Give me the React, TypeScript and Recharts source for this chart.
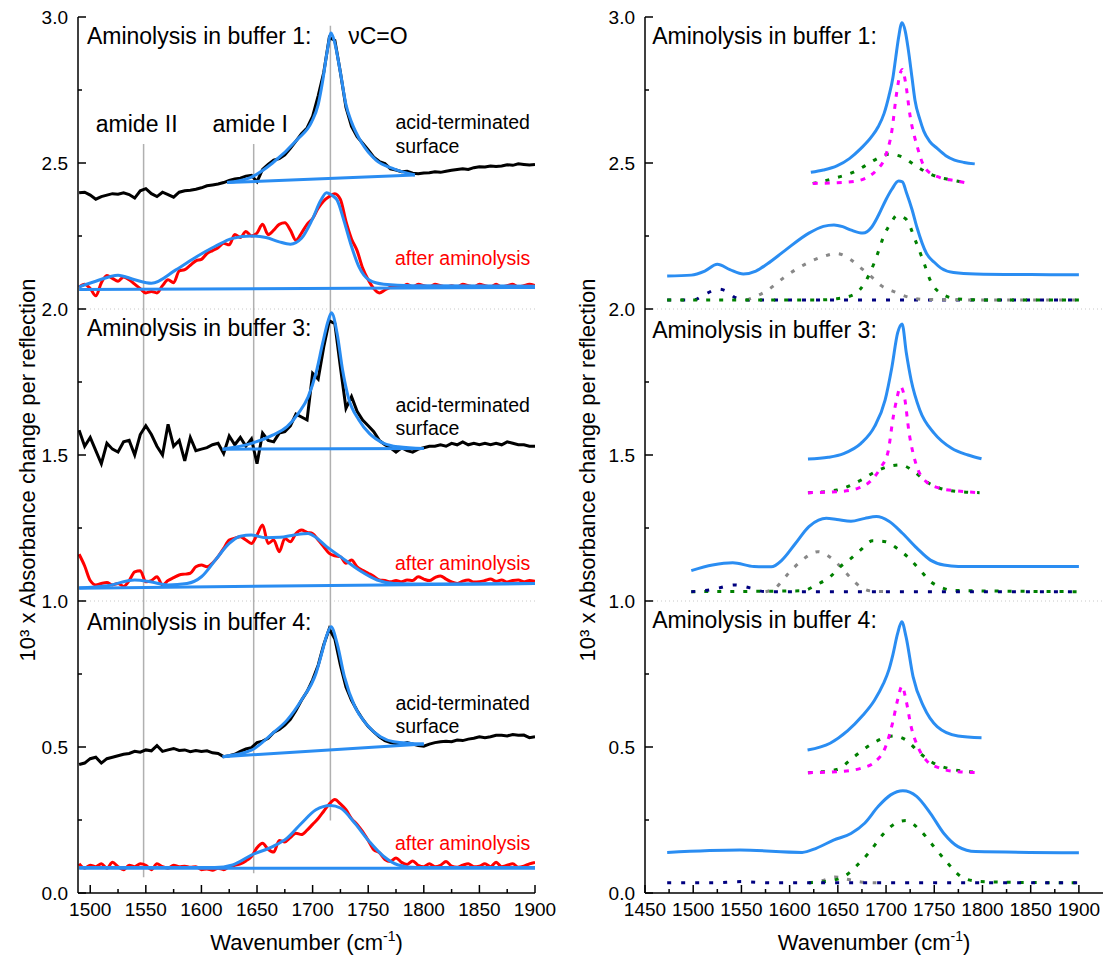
import { LineChart, Line, XAxis, YAxis, ReferenceLine, ReferenceDot } from 'recharts'

const FONT = '"Liberation Sans", Arial, Helvetica, sans-serif'
const BLUE = '#2a8df2'
const TICK_GAP = 10

type Pt = [number, number]

// shared wavenumber grid of the measured spectra (cm-1)
const wavenumbers = [
  1490, 1495, 1500, 1505, 1510, 1515, 1520, 1525, 1530, 1535,
  1540, 1545, 1550, 1555, 1560, 1565, 1570, 1575, 1580, 1585,
  1590, 1595, 1600, 1605, 1610, 1615, 1620, 1625, 1630, 1635,
  1640, 1645, 1650, 1655, 1660, 1665, 1670, 1675, 1680, 1685,
  1690, 1695, 1700, 1705, 1710, 1715, 1720, 1725, 1730, 1735,
  1740, 1745, 1750, 1755, 1760, 1765, 1770, 1775, 1780, 1785,
  1790, 1795, 1800, 1805, 1810, 1815, 1820, 1825, 1830, 1835,
  1840, 1845, 1850, 1855, 1860, 1865, 1870, 1875, 1880, 1885,
  1890, 1895, 1900,
]

// measured spectra (offset), left panel
const acidBuffer1 = [
  2.398, 2.4, 2.39, 2.376, 2.385, 2.39, 2.395, 2.393, 2.398, 2.392,
  2.38, 2.405, 2.412, 2.395, 2.385, 2.4, 2.392, 2.383, 2.4, 2.405,
  2.407, 2.41, 2.415, 2.422, 2.425, 2.428, 2.433, 2.44, 2.445, 2.448,
  2.455, 2.458, 2.436, 2.478, 2.495, 2.51, 2.515, 2.528, 2.55, 2.575,
  2.6, 2.62, 2.66, 2.73, 2.81, 2.93, 2.92, 2.81, 2.69, 2.625,
  2.59, 2.568, 2.545, 2.52, 2.505, 2.498, 2.48, 2.476, 2.47, 2.472,
  2.465, 2.463, 2.466, 2.467, 2.47, 2.468, 2.472, 2.475, 2.478, 2.48,
  2.478, 2.484, 2.487, 2.486, 2.49, 2.488, 2.49, 2.494, 2.492, 2.497,
  2.495, 2.493, 2.495,
]
const afterBuffer1 = [
  2.075, 2.085, 2.07, 2.045, 2.09, 2.115, 2.105, 2.095, 2.11, 2.1,
  2.085, 2.07, 2.055, 2.06, 2.055, 2.08, 2.1, 2.09, 2.13, 2.135,
  2.15, 2.165, 2.17, 2.19, 2.2, 2.21, 2.225, 2.22, 2.255, 2.245,
  2.265, 2.25, 2.26, 2.29, 2.255, 2.27, 2.29, 2.295, 2.27, 2.235,
  2.26, 2.29, 2.31, 2.345, 2.37, 2.385, 2.395, 2.375, 2.3, 2.24,
  2.2, 2.14, 2.1, 2.07, 2.055, 2.065, 2.075, 2.08, 2.075, 2.085,
  2.075, 2.085, 2.08, 2.075, 2.085, 2.08, 2.075, 2.08, 2.075, 2.085,
  2.08, 2.075, 2.085, 2.08, 2.075, 2.085, 2.075, 2.08, 2.085, 2.075,
  2.08, 2.085, 2.08,
]
const acidBuffer3 = [
  1.585, 1.53, 1.56, 1.515, 1.47, 1.54, 1.52, 1.51, 1.545, 1.55,
  1.5, 1.57, 1.6, 1.57, 1.53, 1.5, 1.605, 1.53, 1.55, 1.48,
  1.56, 1.515, 1.52, 1.525, 1.535, 1.54, 1.505, 1.565, 1.535, 1.56,
  1.53, 1.555, 1.47, 1.575, 1.55, 1.545, 1.575, 1.58, 1.6, 1.64,
  1.63, 1.62, 1.78, 1.76, 1.87, 1.96, 1.95, 1.8, 1.66, 1.7,
  1.65, 1.62, 1.6, 1.58, 1.55, 1.535, 1.525, 1.51, 1.525, 1.515,
  1.51, 1.52, 1.525, 1.53, 1.53, 1.535, 1.53, 1.54, 1.535, 1.545,
  1.535, 1.54, 1.535, 1.54, 1.535, 1.54, 1.535, 1.545, 1.54, 1.535,
  1.535, 1.53, 1.53,
]
const afterBuffer3 = [
  1.16, 1.12, 1.07, 1.055, 1.06, 1.063, 1.055, 1.06, 1.05, 1.07,
  1.1, 1.104, 1.066, 1.07, 1.083, 1.055, 1.07, 1.08, 1.089, 1.092,
  1.095, 1.117, 1.123, 1.117, 1.13, 1.152, 1.18, 1.209, 1.215, 1.22,
  1.209, 1.197, 1.226, 1.26, 1.197, 1.209, 1.169, 1.214, 1.203, 1.231,
  1.243, 1.235, 1.231, 1.209, 1.186, 1.163, 1.155, 1.152, 1.129, 1.14,
  1.117, 1.105, 1.095, 1.085, 1.072, 1.07, 1.066, 1.07, 1.066, 1.072,
  1.07, 1.083, 1.075, 1.07, 1.08, 1.086, 1.075, 1.065, 1.06, 1.068,
  1.072, 1.065, 1.066, 1.07, 1.075, 1.068, 1.072, 1.065, 1.07, 1.072,
  1.066, 1.07, 1.068,
]
const acidBuffer4 = [
  0.44, 0.445, 0.46, 0.465, 0.445, 0.46, 0.465, 0.47, 0.475, 0.478,
  0.485, 0.482, 0.49, 0.487, 0.505, 0.485, 0.49, 0.495, 0.488, 0.49,
  0.484, 0.488, 0.485, 0.487, 0.48, 0.478, 0.467, 0.47, 0.475, 0.485,
  0.493, 0.498, 0.515, 0.52, 0.53, 0.55, 0.56, 0.575, 0.595, 0.625,
  0.66, 0.69, 0.73, 0.78, 0.85, 0.905, 0.87, 0.78, 0.705, 0.66,
  0.625, 0.595, 0.57, 0.552, 0.535, 0.522, 0.515, 0.512, 0.51, 0.515,
  0.51, 0.505, 0.503, 0.51, 0.515, 0.518, 0.52, 0.518, 0.524, 0.522,
  0.527, 0.53, 0.535, 0.532, 0.535, 0.54, 0.54, 0.538, 0.543, 0.54,
  0.541, 0.532, 0.535,
]
const afterBuffer4 = [
  0.1, 0.085, 0.095, 0.09, 0.1, 0.085, 0.105, 0.09, 0.08, 0.095,
  0.09, 0.1, 0.095, 0.08, 0.1, 0.09, 0.085, 0.095, 0.09, 0.092,
  0.088, 0.09, 0.08, 0.082, 0.078, 0.085, 0.08, 0.09, 0.095, 0.1,
  0.11, 0.125, 0.155, 0.17, 0.15, 0.14, 0.18, 0.175, 0.19, 0.205,
  0.2, 0.215, 0.235, 0.255, 0.28, 0.305, 0.32, 0.305, 0.285, 0.255,
  0.235, 0.21, 0.18, 0.148, 0.138, 0.115, 0.108, 0.12, 0.105, 0.098,
  0.11, 0.095, 0.09, 0.1, 0.09, 0.095, 0.108, 0.092, 0.088, 0.095,
  0.1, 0.09, 0.092, 0.1, 0.09, 0.105, 0.09, 0.095, 0.1, 0.088,
  0.092, 0.1, 0.105,
]

// fits and baselines, left panel
const fitAcid1: Pt[] = [[1623, 2.433], [1644, 2.45], [1664, 2.5], [1686, 2.58], [1699, 2.64], [1705, 2.7], [1709, 2.78], [1713, 2.88], [1716.6, 2.945], [1720, 2.91], [1725, 2.81], [1730, 2.7], [1735, 2.64], [1744, 2.57], [1757, 2.51], [1773, 2.48], [1792, 2.459]]
const baseAcid1: Pt[] = [[1623, 2.433], [1792, 2.459]]
const fitAfter1: Pt[] = [[1490, 2.076], [1505, 2.095], [1525, 2.116], [1540, 2.1], [1555, 2.088], [1577, 2.134], [1596, 2.18], [1612, 2.214], [1628, 2.242], [1645, 2.25], [1658, 2.245], [1670, 2.23], [1680, 2.222], [1690, 2.242], [1699.5, 2.305], [1707.5, 2.373], [1712.5, 2.398], [1717, 2.39], [1722, 2.373], [1728, 2.305], [1735, 2.214], [1741.6, 2.145], [1751, 2.099], [1764, 2.085], [1790, 2.08], [1900, 2.078]]
const baseAfter1: Pt[] = [[1490, 2.067], [1900, 2.074]]
const fitAcid3: Pt[] = [[1619, 1.52], [1645, 1.54], [1664, 1.568], [1677, 1.597], [1687, 1.642], [1696, 1.699], [1703, 1.78], [1709, 1.882], [1714, 1.96], [1717, 1.987], [1722, 1.917], [1727, 1.79], [1732, 1.699], [1741.6, 1.62], [1751, 1.574], [1764, 1.54], [1777, 1.528], [1800, 1.522]]
const baseAcid3: Pt[] = [[1619, 1.52], [1800, 1.522]]
const fitAfter3: Pt[] = [[1490, 1.045], [1515, 1.052], [1540, 1.072], [1554, 1.066], [1570, 1.055], [1587, 1.06], [1600, 1.083], [1612.5, 1.14], [1625, 1.197], [1635, 1.222], [1645, 1.226], [1657.6, 1.217], [1670.6, 1.218], [1683.4, 1.226], [1696, 1.231], [1702.8, 1.218], [1712.5, 1.186], [1725, 1.152], [1741.6, 1.106], [1758, 1.072], [1773, 1.06], [1806, 1.058], [1900, 1.06]]
const baseAfter3: Pt[] = [[1490, 1.044], [1900, 1.06]]
const fitAcid4: Pt[] = [[1619, 0.467], [1645, 0.489], [1664, 0.547], [1677, 0.592], [1690, 0.661], [1703, 0.752], [1709, 0.832], [1713, 0.885], [1716.6, 0.912], [1722, 0.855], [1728.6, 0.741], [1738, 0.638], [1748, 0.58], [1761, 0.535], [1773, 0.518], [1800, 0.51]]
const baseAcid4: Pt[] = [[1619, 0.467], [1800, 0.51]]
const fitAfter4: Pt[] = [[1490, 0.087], [1600, 0.087], [1612, 0.087], [1628, 0.096], [1645, 0.13], [1664, 0.159], [1677, 0.188], [1690, 0.239], [1703, 0.285], [1716, 0.3], [1725, 0.291], [1738, 0.239], [1751, 0.176], [1764, 0.125], [1777, 0.096], [1793, 0.087], [1900, 0.087]]
const baseAfter4: Pt[] = [[1490, 0.085], [1900, 0.085]]

// band markers: amide II, amide I, nu C=O
const markerAmide2: Pt[] = [[1548, 0.054], [1548, 2.565]]
const markerAmide1: Pt[] = [[1647, 0.068], [1647, 2.565]]
const markerCO: Pt[] = [[1716, 0.248], [1716, 2.97]]

// right panel: fitted sums and components
const sumAcid1: Pt[] = [[1622, 2.468], [1635, 2.476], [1649, 2.49], [1662, 2.515], [1674, 2.55], [1685, 2.59], [1692, 2.625], [1698, 2.67], [1703, 2.73], [1707, 2.79], [1710, 2.86], [1713, 2.93], [1716.5, 2.98], [1720, 2.95], [1723, 2.89], [1727, 2.79], [1730, 2.715], [1735, 2.65], [1739, 2.61], [1745, 2.575], [1753, 2.55], [1762, 2.525], [1771, 2.51], [1781, 2.502], [1792, 2.497]]
const lorAcid1: Pt[] = [[1624, 2.43], [1645, 2.432], [1667, 2.437], [1680, 2.45], [1690, 2.475], [1699, 2.52], [1706, 2.61], [1711, 2.74], [1715, 2.81], [1717, 2.82], [1720, 2.78], [1725, 2.66], [1732, 2.56], [1741, 2.48], [1756, 2.45], [1771, 2.44], [1786, 2.43]]
const gauAcid1: Pt[] = [[1624, 2.43], [1649, 2.45], [1667, 2.47], [1678, 2.49], [1688, 2.51], [1703, 2.53], [1717, 2.52], [1731, 2.49], [1741, 2.47], [1756, 2.45], [1771, 2.44], [1786, 2.43]]
const sumAfter1: Pt[] = [[1473, 2.113], [1498, 2.116], [1512, 2.13], [1525, 2.153], [1538, 2.135], [1552, 2.12], [1565, 2.13], [1577, 2.155], [1595, 2.2], [1620, 2.26], [1635, 2.283], [1646, 2.288], [1655, 2.282], [1664, 2.27], [1676, 2.26], [1685, 2.28], [1692, 2.32], [1700, 2.375], [1706, 2.41], [1713, 2.438], [1717, 2.435], [1721, 2.4], [1727, 2.34], [1732, 2.28], [1742, 2.19], [1750, 2.16], [1757, 2.14], [1770, 2.125], [1793, 2.12], [1850, 2.118], [1900, 2.117]]
const amide2After1: Pt[] = [[1473, 2.031], [1500, 2.031], [1512, 2.05], [1526, 2.068], [1535, 2.06], [1543, 2.04], [1555, 2.031], [1700, 2.031], [1900, 2.031]]
const amide1After1: Pt[] = [[1556, 2.031], [1577, 2.064], [1595, 2.11], [1620, 2.16], [1635, 2.18], [1649, 2.19], [1663, 2.17], [1674, 2.14], [1685, 2.11], [1695, 2.08], [1710, 2.057], [1724, 2.04], [1739, 2.033], [1800, 2.031], [1900, 2.031]]
const esterAfter1: Pt[] = [[1473, 2.031], [1630, 2.031], [1649, 2.035], [1667, 2.05], [1678, 2.09], [1688, 2.16], [1699, 2.26], [1706, 2.3], [1711, 2.32], [1720, 2.31], [1731, 2.23], [1738, 2.17], [1747, 2.09], [1759, 2.05], [1773, 2.035], [1800, 2.031], [1900, 2.031]]

const sumAcid3: Pt[] = [[1619, 1.486], [1640, 1.492], [1656, 1.505], [1674, 1.54], [1688, 1.597], [1699, 1.688], [1706, 1.8], [1712, 1.918], [1716.6, 1.949], [1721, 1.85], [1726, 1.757], [1735, 1.654], [1750, 1.574], [1768, 1.523], [1785, 1.5], [1799, 1.487]]
const lorAcid3: Pt[] = [[1619, 1.371], [1649, 1.374], [1670, 1.385], [1685, 1.414], [1695, 1.46], [1702, 1.51], [1707.5, 1.631], [1711, 1.69], [1715, 1.734], [1719, 1.7], [1724, 1.574], [1731, 1.47], [1741.5, 1.409], [1756, 1.386], [1773.5, 1.377], [1797, 1.371]]
const gauAcid3: Pt[] = [[1619, 1.371], [1649, 1.38], [1674, 1.414], [1688.5, 1.442], [1702, 1.46], [1715, 1.466], [1728, 1.446], [1741.5, 1.409], [1756, 1.386], [1775, 1.375], [1797, 1.371]]
const sumAfter3: Pt[] = [[1498, 1.104], [1520, 1.123], [1541, 1.131], [1563, 1.118], [1581, 1.117], [1592, 1.14], [1606, 1.197], [1620, 1.255], [1630, 1.277], [1638, 1.283], [1649, 1.279], [1663.6, 1.273], [1678, 1.283], [1690, 1.289], [1703, 1.273], [1717, 1.232], [1732, 1.181], [1746, 1.14], [1760, 1.123], [1775, 1.118], [1900, 1.118]]
const amide2After3: Pt[] = [[1498, 1.032], [1520, 1.04], [1527, 1.045], [1543, 1.055], [1559, 1.045], [1575, 1.032], [1900, 1.032]]
const amide1After3: Pt[] = [[1575, 1.032], [1584.5, 1.043], [1599, 1.095], [1613, 1.14], [1629.4, 1.169], [1642, 1.15], [1652.7, 1.118], [1663.6, 1.078], [1674, 1.047], [1685, 1.034], [1700, 1.032]]
const esterAfter3: Pt[] = [[1498, 1.032], [1613, 1.035], [1627.6, 1.055], [1642, 1.083], [1652.7, 1.118], [1663.6, 1.146], [1674, 1.176], [1686, 1.206], [1699.5, 1.203], [1711.6, 1.18], [1724, 1.146], [1735, 1.107], [1746, 1.067], [1756.7, 1.047], [1770.8, 1.036], [1900, 1.032]]

const sumAcid4: Pt[] = [[1618.6, 0.49], [1642, 0.513], [1660, 0.555], [1675, 0.605], [1688, 0.66], [1697, 0.715], [1703, 0.765], [1707, 0.815], [1712, 0.889], [1716.3, 0.929], [1720.7, 0.878], [1728, 0.741], [1739, 0.638], [1753, 0.57], [1774.6, 0.538], [1799, 0.532]]
const lorAcid4: Pt[] = [[1619, 0.412], [1649, 0.415], [1674, 0.427], [1688.5, 0.449], [1699.5, 0.501], [1706.6, 0.58], [1712, 0.661], [1716.6, 0.709], [1720.7, 0.661], [1726, 0.57], [1733, 0.501], [1741.5, 0.455], [1756, 0.427], [1774.6, 0.415], [1799, 0.412]]
const gauAcid4: Pt[] = [[1619, 0.412], [1649, 0.423], [1667, 0.467], [1685, 0.51], [1699.5, 0.533], [1708, 0.538], [1720.7, 0.524], [1735, 0.479], [1749.6, 0.444], [1764, 0.427], [1799, 0.412]]
const sumAfter4: Pt[] = [[1473, 0.139], [1548.5, 0.147], [1613, 0.139], [1627.5, 0.153], [1645.5, 0.181], [1663.6, 0.204], [1677.8, 0.239], [1692, 0.297], [1704.8, 0.336], [1717.4, 0.35], [1731.7, 0.331], [1746, 0.273], [1760, 0.204], [1774.6, 0.159], [1792.8, 0.142], [1900, 0.138]]
const amide2After4: Pt[] = [[1473, 0.035], [1520, 0.035], [1550, 0.039], [1580, 0.035], [1900, 0.035]]
const amide1After4: Pt[] = [[1620, 0.035], [1634.6, 0.043], [1647, 0.055], [1659.5, 0.047], [1674, 0.038], [1690, 0.035]]
const esterAfter4: Pt[] = [[1620, 0.035], [1645.5, 0.044], [1660, 0.064], [1670, 0.095], [1681.5, 0.135], [1697.7, 0.204], [1710, 0.239], [1720.7, 0.248], [1735, 0.216], [1749.6, 0.159], [1764, 0.102], [1778, 0.056], [1793, 0.041], [1820, 0.037], [1900, 0.035]]

// axes
const leftXTicks = [1500, 1525, 1550, 1575, 1600, 1625, 1650, 1675, 1700, 1725, 1750, 1775, 1800, 1825, 1850, 1875, 1900]
const rightXTicks = [1450, 1475, 1500, 1525, 1550, 1575, 1600, 1625, 1650, 1675, 1700, 1725, 1750, 1775, 1800, 1825, 1850, 1875, 1900]
const yTicks = [0, 0.25, 0.5, 0.75, 1, 1.25, 1.5, 1.75, 2, 2.25, 2.5, 2.75, 3]

const yTitle = '10\u00b3 x Absorbance change per reflection'

const leftNotes = [
  { x: 1497, y: 2.906, text: 'Aminolysis in buffer 1:', big: true, red: false },
  { x: 1732, y: 2.906, text: '\u03bdC=O', big: true, red: false },
  { x: 1505, y: 2.606, text: 'amide II', big: true, red: false },
  { x: 1610, y: 2.606, text: 'amide I', big: true, red: false },
  { x: 1774.5, y: 2.616, text: 'acid-terminated', big: false, red: false },
  { x: 1774.5, y: 2.535, text: 'surface', big: false, red: false },
  { x: 1774, y: 2.151, text: 'after aminolysis', big: false, red: true },
  { x: 1497, y: 1.908, text: 'Aminolysis in buffer 3:', big: true, red: false },
  { x: 1774.5, y: 1.648, text: 'acid-terminated', big: false, red: false },
  { x: 1774.5, y: 1.568, text: 'surface', big: false, red: false },
  { x: 1774, y: 1.106, text: 'after aminolysis', big: false, red: true },
  { x: 1497, y: 0.901, text: 'Aminolysis in buffer 4:', big: true, red: false },
  { x: 1774.5, y: 0.627, text: 'acid-terminated', big: false, red: false },
  { x: 1774.5, y: 0.548, text: 'surface', big: false, red: false },
  { x: 1774, y: 0.147, text: 'after aminolysis', big: false, red: true },
]
const rightNotes = [
  { x: 1457.5, y: 2.906, text: 'Aminolysis in buffer 1:' },
  { x: 1457.5, y: 1.9, text: 'Aminolysis in buffer 3:' },
  { x: 1457.5, y: 0.906, text: 'Aminolysis in buffer 4:' },
]

const toRows = (ys: number[]) => wavenumbers.map((x, i) => ({ x, y: ys[i] }))
const toPts = (pts: Pt[]) => pts.map(([x, y]) => ({ x, y }))

function BottomTick(props: any) {
  const { x, y, payload } = props
  const v = payload.value
  const major = v % 50 === 0
  const ay = y - TICK_GAP
  return (
    <g>
      <line x1={x} x2={x} y1={ay} y2={ay - (major ? 8 : 4)} stroke="#000" strokeWidth={1.5} />
      {major && (
        <text x={x} y={y} dy="0.71em" textAnchor="middle" fontSize={19} fontFamily={FONT} fill="#000">
          {v}
        </text>
      )}
    </g>
  )
}

function TopTick(props: any) {
  const { x, y, payload } = props
  const major = payload.value % 50 === 0
  const ay = y + TICK_GAP
  return <line x1={x} x2={x} y1={ay} y2={ay + (major ? 8 : 4)} stroke="#000" strokeWidth={1.5} />
}

function LeftTick(props: any) {
  const { x, y, payload } = props
  const v = payload.value
  const major = Math.abs(v * 2 - Math.round(v * 2)) < 1e-6
  const ax = x + TICK_GAP
  return (
    <g>
      <line x1={ax} x2={ax + (major ? 8 : 4)} y1={y} y2={y} stroke="#000" strokeWidth={1.5} />
      {major && (
        <text x={x} y={y} dy="0.355em" textAnchor="end" fontSize={19} fontFamily={FONT} fill="#000">
          {v.toFixed(1)}
        </text>
      )}
    </g>
  )
}

function RightTick(props: any) {
  const { x, y, payload } = props
  const v = payload.value
  const major = Math.abs(v * 2 - Math.round(v * 2)) < 1e-6
  const ax = x - TICK_GAP
  return <line x1={ax} x2={ax - (major ? 8 : 4)} y1={y} y2={y} stroke="#000" strokeWidth={1.5} />
}

function XTitle(props: any) {
  const vb = props.viewBox ?? { x: 0, y: 893, width: 457, height: 65 }
  const cx = vb.x + vb.width / 2
  const by = vb.y + 57
  return (
    <text x={cx} y={by} textAnchor="middle" fontSize={22} fontFamily={FONT} fill="#000">
      <tspan>Wavenumber (cm</tspan>
      <tspan dy={-9} fontSize={14}>-1</tspan>
      <tspan dy={9}>)</tspan>
    </text>
  )
}

// rotated y-axis title, drawn in an overlay at the baseline x of each panel
function YTitle({ bx }: { bx: number }) {
  const cy = 470
  return (
    <text
      x={bx}
      y={cy}
      textAnchor="middle"
      transform={`rotate(-90 ${bx} ${cy})`}
      fontSize={22}
      fontFamily={FONT}
      fill="#000"
    >
      {yTitle}
    </text>
  )
}

function noteShape(text: string, size: number, color: string) {
  return (p: any) => (
    <text x={p.cx} y={p.cy} fontSize={size} fontFamily={FONT} fill={color}>
      {text}
    </text>
  )
}

const axisLine = { stroke: '#000', strokeWidth: 1.5 }

function line(key: string, pts: Pt[] | { x: number; y: number }[], stroke: string, opts: any = {}) {
  const data = Array.isArray(pts[0]) ? toPts(pts as Pt[]) : (pts as { x: number; y: number }[])
  return (
    <Line
      key={key}
      data={data}
      dataKey="y"
      type={opts.linear ? 'linear' : 'monotone'}
      stroke={stroke}
      strokeWidth={opts.width ?? 3}
      strokeDasharray={opts.dash}
      dot={false}
      activeDot={false}
      isAnimationActive={false}
      legendType="none"
    />
  )
}

function frameAxes(xDomain: [number, number], xTicks: number[], withRight: boolean) {
  return [
    <XAxis
      key="xb"
      xAxisId={0}
      type="number"
      dataKey="x"
      domain={xDomain}
      allowDataOverflow
      ticks={xTicks}
      interval={0}
      height={65}
      tickLine={false}
      tickSize={0}
      tickMargin={TICK_GAP}
      tick={BottomTick}
      axisLine={axisLine}
      label={{ content: XTitle }}
    />,
    <XAxis
      key="xt"
      xAxisId="top"
      orientation="top"
      type="number"
      dataKey="x"
      domain={xDomain}
      allowDataOverflow
      ticks={xTicks}
      interval={0}
      height={0}
      tickLine={false}
      tickSize={0}
      tickMargin={TICK_GAP}
      tick={TopTick}
      axisLine={axisLine}
    />,
    withRight ? (
      <YAxis
        key="yr"
        yAxisId="right"
        orientation="right"
        type="number"
        domain={[0, 3]}
        allowDataOverflow
        ticks={yTicks}
        interval={0}
        width={0}
        tickLine={false}
        tickSize={0}
        tickMargin={TICK_GAP}
        tick={RightTick}
        axisLine={axisLine}
      />
    ) : null,
  ]
}

function LeftPanel() {
  return (
    <LineChart width={560} height={958} margin={{ top: 17, right: 25, left: 0, bottom: 0 }}>
      {frameAxes([1489, 1900], leftXTicks, true)}
      <YAxis
        yAxisId={0}
        type="number"
        domain={[0, 3]}
        allowDataOverflow
        ticks={yTicks}
        interval={0}
        width={78}
        tickLine={false}
        tickSize={0}
        tickMargin={TICK_GAP}
        tick={LeftTick}
        axisLine={axisLine}
      />
      <ReferenceLine y={1} stroke="#c8c8c8" strokeDasharray="1 3" strokeWidth={1} />
      <ReferenceLine y={2} stroke="#c8c8c8" strokeDasharray="1 3" strokeWidth={1} />
      {line('m1', markerAmide2, '#b0b0b0', { linear: true, width: 1.5 })}
      {line('m2', markerAmide1, '#b0b0b0', { linear: true, width: 1.5 })}
      {line('m3', markerCO, '#b0b0b0', { linear: true, width: 1.5 })}
      {line('a1', toRows(acidBuffer1), '#000000', { linear: true })}
      {line('a3', toRows(acidBuffer3), '#000000', { linear: true })}
      {line('a4', toRows(acidBuffer4), '#000000', { linear: true })}
      {line('r1', toRows(afterBuffer1), '#ff0000')}
      {line('r3', toRows(afterBuffer3), '#ff0000')}
      {line('r4', toRows(afterBuffer4), '#ff0000')}
      {line('ba1', baseAcid1, BLUE, { linear: true })}
      {line('fa1', fitAcid1, BLUE)}
      {line('bb1', baseAfter1, BLUE, { linear: true })}
      {line('fb1', fitAfter1, BLUE)}
      {line('ba3', baseAcid3, BLUE, { linear: true })}
      {line('fa3', fitAcid3, BLUE)}
      {line('bb3', baseAfter3, BLUE, { linear: true })}
      {line('fb3', fitAfter3, BLUE)}
      {line('ba4', baseAcid4, BLUE, { linear: true })}
      {line('fa4', fitAcid4, BLUE)}
      {line('bb4', baseAfter4, BLUE, { linear: true })}
      {line('fb4', fitAfter4, BLUE)}
      {leftNotes.map((n, i) => (
        <ReferenceDot
          key={`n${i}`}
          x={n.x}
          y={n.y}
          r={0}
          ifOverflow="visible"
          shape={noteShape(n.text, n.big ? 23 : 19.5, n.red ? '#ff0000' : '#000000')}
        />
      ))}
    </LineChart>
  )
}

function RightPanel() {
  const navy = { dash: '4 10' }
  const green = { dash: '4 9' }
  const magenta = { dash: '5 7' }
  const gray = { dash: '4 9' }
  return (
    <LineChart width={543} height={958} margin={{ top: 17, right: 0, left: 0, bottom: 0 }}>
      {frameAxes([1450, 1925], rightXTicks, false)}
      <YAxis
        yAxisId={0}
        type="number"
        domain={[0, 3]}
        allowDataOverflow
        ticks={yTicks}
        interval={0}
        width={85}
        tickLine={false}
        tickSize={0}
        tickMargin={TICK_GAP}
        tick={LeftTick}
        axisLine={axisLine}
      />
      <ReferenceLine y={1} stroke="#c8c8c8" strokeDasharray="1 3" strokeWidth={1} />
      <ReferenceLine y={2} stroke="#c8c8c8" strokeDasharray="1 3" strokeWidth={1} />
      {line('g1', gauAcid1, '#008000', green)}
      {line('l1', lorAcid1, '#ff00ff', magenta)}
      {line('s1', sumAcid1, BLUE)}
      {line('c21', amide2After1, '#000080', navy)}
      {line('c11', amide1After1, '#888888', gray)}
      {line('e1', esterAfter1, '#008000', green)}
      {line('t1', sumAfter1, BLUE)}
      {line('g3', gauAcid3, '#008000', green)}
      {line('l3', lorAcid3, '#ff00ff', magenta)}
      {line('s3', sumAcid3, BLUE)}
      {line('c13', amide1After3, '#888888', gray)}
      {line('e3', esterAfter3, '#008000', green)}
      {line('c23', amide2After3, '#000080', navy)}
      {line('t3', sumAfter3, BLUE)}
      {line('g4', gauAcid4, '#008000', green)}
      {line('l4', lorAcid4, '#ff00ff', magenta)}
      {line('s4', sumAcid4, BLUE)}
      {line('c14', amide1After4, '#888888', gray)}
      {line('e4', esterAfter4, '#008000', green)}
      {line('c24', amide2After4, '#000080', navy)}
      {line('t4', sumAfter4, BLUE)}
      {rightNotes.map((n, i) => (
        <ReferenceDot key={`rn${i}`} x={n.x} y={n.y} r={0} ifOverflow="visible" shape={noteShape(n.text, 23, '#000000')} />
      ))}
    </LineChart>
  )
}

export default function App() {
  return (
    <div style={{ position: 'absolute', left: 0, top: 0, width: 1103, height: 958, background: '#fff', overflow: 'hidden' }}>
      <div style={{ position: 'absolute', left: 0, top: 0 }}>
        <LeftPanel />
      </div>
      <div style={{ position: 'absolute', left: 560, top: 0 }}>
        <RightPanel />
      </div>
      <svg width={1103} height={958} style={{ position: 'absolute', left: 0, top: 0, pointerEvents: 'none' }}>
        <YTitle bx={35} />
        <YTitle bx={595} />
      </svg>
    </div>
  )
}
